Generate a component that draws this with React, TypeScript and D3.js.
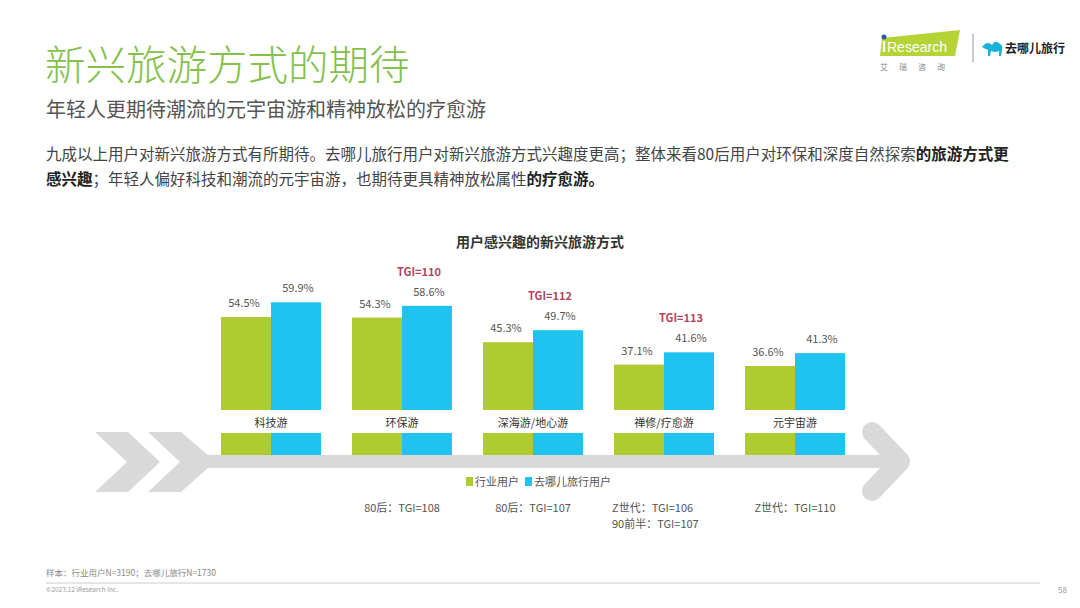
import React from 'react';
import * as d3 from 'd3';

const categories = ['科技游', '环保游', '深海游/地心游', '禅修/疗愈游', '元宇宙游'];
const seriesNames = ['行业用户', '去哪儿旅行用户'];
const industryValues = [54.5, 54.3, 45.3, 37.1, 36.6];
const qunarValues = [59.9, 58.6, 49.7, 41.6, 41.3];
const tgiTop = ['', 'TGI=110', 'TGI=112', 'TGI=113', ''];
const tgiBottom = [[], ['80后：TGI=108'], ['80后：TGI=107'], ['Z世代：TGI=106', '90前半：TGI=107'], ['Z世代：TGI=110']];

const GREEN = '#aecb2f';
const BLUE = '#1ec3ef';
const GRAY = '#d9d9d9';
const FONT = '"Noto Sans CJK SC", "Noto Sans", sans-serif';

const App = () => {
    const width = 1080;
    const height = 608;

    const x = d3.scaleBand()
        .domain(categories)
        .range([205.5, 860.5])
        .paddingInner(31 / 131)
        .paddingOuter(31 / 262);
    const xs = d3.scaleBand().domain(seriesNames).range([0, x.bandwidth()]);
    const y = d3.scaleLinear().domain([20.5, 60]).range([410, 302]);

    const values = [industryValues, qunarValues];
    const colors = [GREEN, BLUE];

    return (
        <svg width={width} height={height} style={{ position: 'absolute', left: 0, top: 0, background: '#fff' }} fontFamily={FONT}>
            {/* header */}
            <text x={45} y={80} fontSize={40.5} fill="#84c04c" fontWeight={300}>新兴旅游方式的期待</text>
            <text x={46} y={117} fontSize={20} fill="#555">年轻人更期待潮流的元宇宙游和精神放松的疗愈游</text>
            <text x={46} y={160} fontSize={15.5} fill="#444">
                {'九成以上用户对新兴旅游方式有所期待。去哪儿旅行用户对新兴旅游方式兴趣度更高；整体来看80后用户对环保和深度自然探索'}<tspan fontWeight="bold" fill="#222">的旅游方式更</tspan>
            </text>
            <text x={46} y={185} fontSize={15.5} fill="#444">
                <tspan fontWeight="bold" fill="#222">感兴趣</tspan>{'；年轻人偏好科技和潮流的元宇宙游，也期待更具精神放松属性'}<tspan fontWeight="bold" fill="#222">的疗愈游。</tspan>
            </text>

            {/* logos */}
            <path d="M882,38 L960,30 L955,56 L880,56 Z" fill="#b5d334" />
            <circle cx={884} cy={37} r={2.5} fill="#2d5c9e" />
            <rect x={882.8} y={41} width={2.4} height={11} fill="#fff" />
            <text x={887} y={52} fontSize={14} fill="#fff" fontFamily="Arial, sans-serif">Research</text>
            <text x={880} y={70} fontSize={8} fill="#888" letterSpacing={11}>艾瑞咨询</text>
            <line x1={973} x2={973} y1={34} y2={62} stroke="#999" strokeWidth={1} />
            <path d="M982,47 q5,-7 10,-2 q3,-6 8,-1 q3,1 2,6 l-1,6 l-2,0 l0,-5 q-4,2 -8,0 l-1,5 l-2,0 l0,-6 q-3,-1 -6,-3 z" fill="#1ab1d8" />
            <text x={1005} y={53} fontSize={12} fontWeight="bold" fill="#222">去哪儿旅行</text>

            {/* chart title */}
            <text x={540} y={247} fontSize={14} fontWeight="bold" fill="#333" textAnchor="middle">用户感兴趣的新兴旅游方式</text>

            {/* arrow */}
            <polygon points="95,432 128,432 160,462 128,492 95,492 127,462" fill={GRAY} />
            <polygon points="148,432 181,432 208,455 895,455 895,468 208,468 181,492 148,492 180,462" fill={GRAY} />
            <polyline points="872,432 900,461.5 872,491" fill="none" stroke={GRAY} strokeWidth={20} strokeLinecap="round" strokeLinejoin="round" />

            {/* bars */}
            {categories.map((c, i) => (
                <g key={c} transform={`translate(${x(c)},0)`}>
                    {seriesNames.map((s, k) => {
                        const v = values[k][i];
                        const bx = xs(s) as number;
                        return (
                            <g key={s}>
                                <rect x={bx} y={y(v)} width={xs.bandwidth()} height={y.range()[0] - y(v)} fill={colors[k]} />
                                <rect x={bx} y={433} width={xs.bandwidth()} height={22} fill={colors[k]} />
                                <text x={bx + xs.bandwidth() / 2 - (k === 0 ? 2 : -2)} y={y(v) - 10} fontSize={11} fill="#555" textAnchor="middle">{v.toFixed(1)}%</text>
                            </g>
                        );
                    })}
                    <text x={x.bandwidth() / 2} y={427} fontSize={11} fill="#333" textAnchor="middle">{c}</text>
                    {tgiTop[i] && (
                        <text x={x.bandwidth() / 2 + 17} y={y(qunarValues[i]) - 30} fontSize={11} fontWeight={600} fill="#b3445a" textAnchor="middle">{tgiTop[i]}</text>
                    )}
                    {tgiBottom[i].map((t, j) => (
                        <text key={t} x={tgiBottom[i].length > 1 ? -2 : x.bandwidth() / 2} y={512 + j * 16} fontSize={11} fill="#555" textAnchor={tgiBottom[i].length > 1 ? 'start' : 'middle'}>{t}</text>
                    ))}
                </g>
            ))}

            {/* legend */}
            {seriesNames.map((s, k) => {
                const lx = k === 0 ? 466 : 525;
                return (
                    <g key={s}>
                        <rect x={lx} y={477} width={7} height={9} fill={colors[k]} />
                        <text x={lx + 9} y={485.5} fontSize={11} fill="#555">{s}</text>
                    </g>
                );
            })}

            {/* footer */}
            <text x={46} y={576} fontSize={8.5} fill="#888">样本：行业用户N=3190；去哪儿旅行N=1730</text>
            <line x1={46} x2={1040} y1={583} y2={583} stroke="#ccc" strokeWidth={1} />
            <text x={46} y={592} fontSize={6.5} fill="#999">©2023.12 iResearch Inc.</text>
            <text x={1058} y={593} fontSize={8} fill="#999">58</text>
        </svg>
    );
};

export default App;
